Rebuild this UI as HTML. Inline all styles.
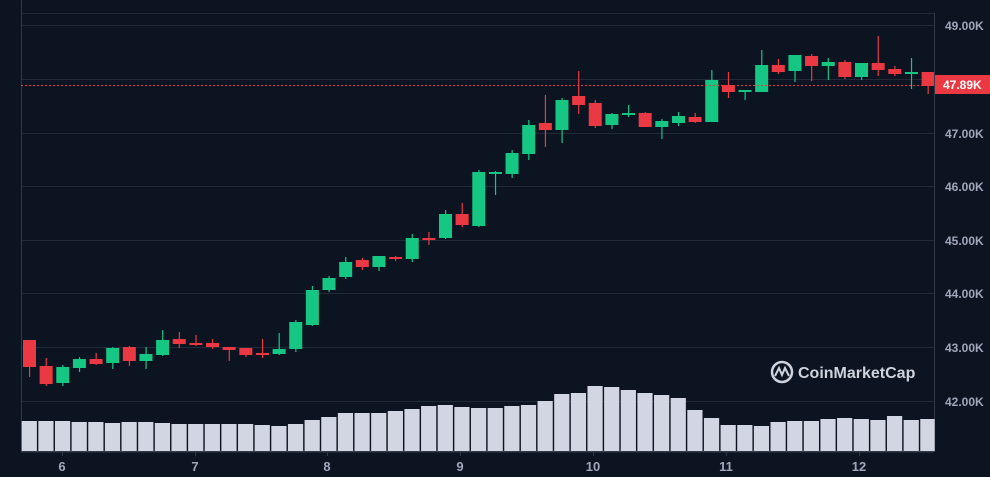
<!DOCTYPE html>
<html><head><meta charset="utf-8"><style>
html,body{margin:0;padding:0;background:#0d1421;width:990px;height:477px;overflow:hidden;font-family:"Liberation Sans",sans-serif}
</style></head><body>
<svg id="s" width="990" height="477" xmlns="http://www.w3.org/2000/svg" style="position:absolute;left:0;top:0">
<rect width="990" height="477" fill="#0d1421"/>
<g stroke="#222a38" stroke-width="1">
<line x1="21" y1="13.5" x2="934" y2="13.5"/>
<line x1="21" y1="25.5" x2="934" y2="25.5"/>
<line x1="21" y1="79.5" x2="934" y2="79.5"/>
<line x1="21" y1="133.5" x2="934" y2="133.5"/>
<line x1="21" y1="186.5" x2="934" y2="186.5"/>
<line x1="21" y1="240.5" x2="934" y2="240.5"/>
<line x1="21" y1="293.5" x2="934" y2="293.5"/>
<line x1="21" y1="347.5" x2="934" y2="347.5"/>
<line x1="21" y1="401.5" x2="934" y2="401.5"/>
</g>
<line x1="934.5" y1="13" x2="934.5" y2="452" stroke="#323a48" stroke-width="1"/>
<line x1="21.5" y1="0" x2="21.5" y2="452" stroke="#323a48" stroke-width="1"/>
<line x1="21" y1="451.5" x2="934" y2="451.5" stroke="#323a48" stroke-width="2"/>
<g id="vol" fill="#d1d6e2"></g>
<g id="cd"></g>
<line x1="21" y1="85.5" x2="934" y2="85.5" stroke="#ea3943" stroke-width="1" stroke-dasharray="2,2"/>
<g fill="#a1a7bb" font-size="12" font-weight="bold">
<text x="945" y="30">49.00K</text>
<text x="945" y="138">47.00K</text>
<text x="945" y="191">46.00K</text>
<text x="945" y="245">45.00K</text>
<text x="945" y="298">44.00K</text>
<text x="945" y="352">43.00K</text>
<text x="945" y="406">42.00K</text>
</g>
<rect x="935" y="75" width="55" height="19" fill="#ea3943"/>
<text x="943" y="89" fill="#ffffff" font-size="12" font-weight="bold">47.89K</text>
<g fill="#a1a7bb" font-size="13" font-weight="bold" text-anchor="middle">
<text x="62" y="471">6</text><text x="195" y="471">7</text><text x="327" y="471">8</text>
<text x="460" y="471">9</text><text x="593" y="471">10</text><text x="726" y="471">11</text><text x="859" y="471">12</text>
</g>
<g stroke="#323a48"><line x1="62.5" y1="452" x2="62.5" y2="456"/><line x1="195.5" y1="452" x2="195.5" y2="456"/><line x1="327.5" y1="452" x2="327.5" y2="456"/><line x1="460.5" y1="452" x2="460.5" y2="456"/><line x1="593.5" y1="452" x2="593.5" y2="456"/><line x1="726.5" y1="452" x2="726.5" y2="456"/><line x1="859.5" y1="452" x2="859.5" y2="456"/></g>
<circle cx="782" cy="372" r="10" fill="none" stroke="#cfd3dc" stroke-width="2.5"/>
<path d="M775 376 L779 368 L782 375 L785 368 L789 376" fill="none" stroke="#cfd3dc" stroke-width="2"/>
<text x="798" y="378" fill="#cfd3dc" font-size="16" font-weight="bold">CoinMarketCap</text>
</svg>
<script>
var C=[
[340,367,340,377,0],[366,384,358,386,0],[367,383,365,386,1],[359,368,357,372,1],[359,364,353,365,0],[348,363,347,369,1],[347,361,346,366,0],[354,361,347,369,1],[340,355,330,356,1],[339,344,332,348,0],[343,345,335,346,0],[343,347,339,349,0],[347,350,347,361,0],[348,355,348,357,0],[353,355,339,358,0],[349,354,333,355,1],[322,349,320,352,1],[290,325,286,326,1],[278,290,276,292,1],[262,277,257,279,1],[260,267,258,270,0],[256,267,256,271,1],[257,259,256,261,0],[238,259,234,262,1],[238,240,232,245,0],[214,238,210,239,1],[214,225,203,227,0],[172,226,170,227,1],[172,174,171,195,1],[153,174,150,178,1],[125,154,120,160,1],[123,130,95,147,0],[100,130,98,143,1],[96,105,71,114,0],[103,126,100,128,0],[114,125,113,129,1],[113,115,105,117,1],[113,127,112,127,0],[121,127,119,139,1],[116,123,112,126,1],[117,122,113,123,0],[80,122,70,122,1],[85,92,72,98,0],[90,92,90,100,1],[65,92,50,92,1],[65,72,59,74,0],[55,71,55,82,1],[56,66,54,81,0],[62,66,58,80,1],[62,77,60,79,0],[63,77,63,80,1],[63,70,36,76,0],[69,74,66,76,0],[72,74,58,89,1],[72,86,72,94,0]];
var V=[421,421,421,422,422,423,422,422,423,424,424,424,424,424,425,426,424,420,417,413,413,413,411,409,406,405,407,408,408,406,405,401,394,393,386,387,390,393,395,398,410,418,425,425,426,422,421,421,419,418,419,420,416,420,419];
var ns="http://www.w3.org/2000/svg",cd=document.getElementById('cd'),vg=document.getElementById('vol');
function el(t,a,p){var e=document.createElementNS(ns,t);for(var k in a)e.setAttribute(k,a[k]);p.appendChild(e);}
for(var i=0;i<C.length;i++){var c=C[i],x=23+i*16.64,col=c[4]?'#16c784':'#ea3943';
var w=Math.min(13,934-x);
el('rect',{x:x+6,y:c[2],width:1.2,height:c[3]-c[2],fill:col},cd);
el('rect',{x:x,y:c[0],width:w,height:Math.max(2,c[1]-c[0]),fill:col},cd);}
for(var i=0;i<V.length;i++){var x=21+i*16.64;var w=Math.min(15.2,934-x);if(w>0)el('rect',{x:x+0.7,y:V[i],width:w,height:451-V[i]},vg);}
</script>
</body></html>
